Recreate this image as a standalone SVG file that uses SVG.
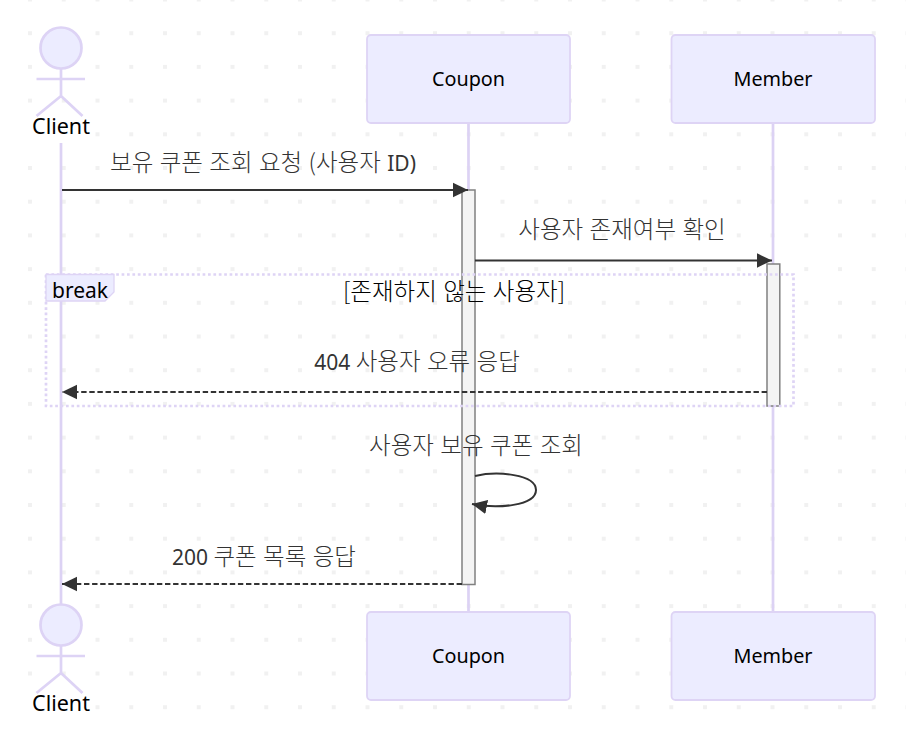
<svg xmlns="http://www.w3.org/2000/svg" width="906" height="737" viewBox="0 0 906 737">
<style>
text{font-family:"Noto Sans","Noto Sans CJK KR",sans-serif;font-size:21px;text-anchor:middle}
.lbl{fill:#333}
.blk{fill:#000}
.nm{font-size:19.800px}
.k{font-family:"Noto Sans CJK KR","Noto Sans",sans-serif;font-size:23.500px;font-weight:300;word-spacing:1.200px}
.life{stroke:#dcd2f4;stroke-width:2.7;fill:none}
.box{fill:#ececff;stroke:#ded4f5;stroke-width:1.8}
.act{stroke:#ddd3f5;stroke-width:2.7;fill:#ececff}
.actl{stroke:#ddd3f5;stroke-width:2.7;fill:none}
.acti{fill:#f4f4f4;stroke:#808080;stroke-width:1.5}
.msg{stroke:#333;stroke-width:2;fill:none}
.dash{stroke-dasharray:5.400 2.700}
.loop{fill:none;stroke:#ded4f5;stroke-width:2.7;stroke-dasharray:2.7 2.7}
</style>
<defs>
<pattern id="dots" x="30" y="-0.5" width="33.75" height="33.7" patternUnits="userSpaceOnUse">
<rect x="-2" y="-2" width="4" height="4" fill="#f1f1f1"/>
<rect x="31.75" y="-2" width="4" height="4" fill="#f1f1f1"/>
<rect x="-2" y="31.7" width="4" height="4" fill="#f1f1f1"/>
<rect x="31.75" y="31.7" width="4" height="4" fill="#f1f1f1"/>
</pattern>
<marker id="arrow" markerUnits="userSpaceOnUse" markerWidth="16" markerHeight="16" viewBox="0 0 16 16" refX="15" refY="8" orient="auto">
<path d="M0 0.8 L15 8 L0 15.2 Z" fill="#333"/>
</marker>
</defs>
<rect width="906" height="737" fill="#fff"/>
<rect x="26" y="-3" width="880" height="740" fill="url(#dots)"/>
<rect x="28" y="114" width="66" height="29" fill="#fff"/>
<rect x="28" y="691" width="66" height="24" fill="#fff"/>
<g id="lifelines">
<line class="life" x1="61" y1="143" x2="61" y2="604"/>
<line class="life" x1="468.5" y1="123" x2="468.5" y2="612"/>
<line class="life" x1="773" y1="123" x2="773" y2="612"/>
</g>
<g id="client-top">
<circle class="act" cx="61" cy="48" r="20.5"/>
<path class="actl" d="M61 68.500V96M36.500 79H85M61 96L36.500 116M61 96L82.500 116"/>
<text class="blk" x="61" y="134" style="font-size:21.500px">Client</text>
</g>
<g id="coupon-top">
<rect class="box" x="367" y="35" width="203" height="88" rx="4"/>
<text class="blk nm" x="468.500" y="86">Coupon</text>
</g>
<g id="member-top">
<rect class="box" x="671.500" y="35" width="203.500" height="88" rx="4"/>
<text class="blk nm" x="773" y="86">Member</text>
</g>
<g id="coupon-activation"><rect class="acti" x="462" y="190" width="13" height="394.500"/></g>
<g id="member-activation"><rect class="acti" x="767" y="264" width="12.800" height="142"/></g>
<g id="break-frame">
<rect class="loop" x="46" y="274.500" width="747.500" height="131.500"/>
<path d="M46 274.500H114V292L105 301H46Z" fill="#ececff" stroke="#ded4f5" stroke-width="1.300"/>
<text class="blk" x="80" y="298">break</text>
<text class="blk k" x="454" y="300">[존재하지 않는 사용자]</text>
</g>
<g id="connectors">
<line class="msg" x1="62" y1="190" x2="468" y2="190" marker-end="url(#arrow)"/>
<line class="msg" x1="475" y1="260.500" x2="772" y2="260.500" marker-end="url(#arrow)"/>
<line class="msg dash" x1="767" y1="392" x2="62" y2="392" marker-end="url(#arrow)"/>
<path class="msg" d="M475 476C497 471 536 474 536 490C536 506 497 509 472 504" marker-end="url(#arrow)"/>
<line class="msg dash" x1="462" y1="584" x2="62" y2="584" marker-end="url(#arrow)"/>
</g>
<g id="labels">
<text class="lbl" x="263" y="171"><tspan class="k">보유 쿠폰 조회 요청 (사용자 </tspan>ID)</text>
<text class="lbl k" x="622" y="237.500">사용자 존재여부 확인</text>
<text class="lbl" x="417" y="370">404 <tspan class="k">사용자 오류 응답</tspan></text>
<text class="lbl k" x="476" y="453.500">사용자 보유 쿠폰 조회</text>
<text class="lbl" x="264" y="565">200 <tspan class="k">쿠폰 목록 응답</tspan></text>
</g>
<g id="client-bottom">
<circle class="act" cx="61" cy="625" r="20.5"/>
<path class="actl" d="M61 645.500V673M36.500 656H85M61 673L36.500 693M61 673L82.500 693"/>
<text class="blk" x="61" y="711" style="font-size:21.500px">Client</text>
</g>
<g id="coupon-bottom">
<rect class="box" x="367" y="612" width="203" height="88" rx="4"/>
<text class="blk nm" x="468.500" y="663">Coupon</text>
</g>
<g id="member-bottom">
<rect class="box" x="671.500" y="612" width="203.500" height="88" rx="4"/>
<text class="blk nm" x="773" y="663">Member</text>
</g>
</svg>
